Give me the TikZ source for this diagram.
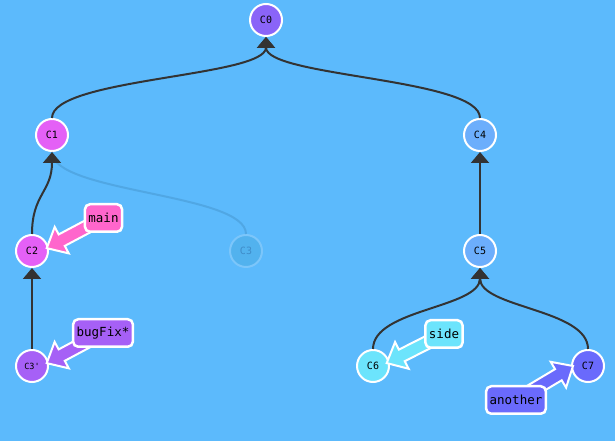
\documentclass[tikz,border=0pt]{standalone}
\usepackage{fontspec}
\setmonofont{DejaVu Sans Mono}
\usetikzlibrary{arrows.meta,calc}
\definecolor{skyblue}{HTML}{5CBAFC}
\definecolor{edgegray}{HTML}{333333}
\definecolor{rootpurple}{HTML}{8A64F8}
\definecolor{mainpink}{HTML}{E460F6}
\definecolor{bugpurple}{HTML}{A660F6}
\definecolor{sideblue}{HTML}{6CAEFC}
\definecolor{sidecyan}{HTML}{6CE4FC}
\definecolor{anotherblue}{HTML}{6A6AFC}
\definecolor{hotpink}{HTML}{FF66CC}
\definecolor{ghostfill}{HTML}{52B2EE}
\definecolor{ghostline}{HTML}{7CC6FA}
\definecolor{ghosttext}{HTML}{3F8CC8}
\definecolor{ghostedge}{HTML}{50A7E4}
\pgfdeclarelayer{front}
\pgfsetlayers{main,front}

% pointer from a branch label to its commit: tail node, tip, colour
\newcommand{\branchptr}[3]{%
  \coordinate (ptrtip) at (#2);
  \coordinate (ptrhead) at ($(ptrtip)!17pt!(#1)$);
  \filldraw[ptr, fill=#3] ($(#1)!6.5pt!90:(ptrtip)$) -- ($(ptrhead)!6.5pt!90:(ptrtip)$)
    -- ($(ptrhead)!15pt!90:(ptrtip)$) -- (ptrtip) -- ($(ptrhead)!15pt!-90:(ptrtip)$)
    -- ($(ptrhead)!6.5pt!-90:(ptrtip)$) -- ($(#1)!6.5pt!-90:(ptrtip)$) -- cycle;}

\begin{document}
\begin{tikzpicture}[
    x=1pt, y=1pt,
    commit/.style={circle, draw=white, line width=2pt, minimum size=32pt, inner sep=0pt, text=black, font=\ttfamily\fontsize{10}{12}\selectfont},
    branch/.style={rectangle, rounded corners=5pt, draw=white, line width=2.5pt, inner xsep=3.5pt, minimum height=27.5pt, text=black, font=\ttfamily\fontsize{12.5}{14}\selectfont},
    edge/.style={line width=2pt, draw=edgegray},
    parent/.style={edge, -{Triangle[width=18pt, length=11pt]}},
    ptr/.style={draw=white, line width=2pt, line join=miter, miter limit=3}
  ]
    \fill[skyblue] (0,0) rectangle (615,441);
    \useasboundingbox (0,0) rectangle (615,441);

    \node[commit, fill=rootpurple] (c0) at (266,421) {C0};
    \node[commit, fill=mainpink] (c1) at (52,306) {C1};
    \node[commit, fill=sideblue] (c4) at (480,306) {C4};
    \node[commit, fill=mainpink] (c2) at (32,190) {C2};
    \node[commit, fill=ghostfill, draw=ghostline, text=ghosttext] (c3) at (246,190) {C3};
    \node[commit, fill=sideblue] (c5) at (480,190) {C5};
    \node[commit, fill=bugpurple, font=\ttfamily\fontsize{8.5}{10}\selectfont] (c3p) at (32,75) {C3'};
    \node[commit, fill=sidecyan] (c6) at (373,75) {C6};
    \node[commit, fill=anotherblue] (c7) at (588,75) {C7};

    \draw[parent] (c1.north) .. controls +(0,40) and +(0,-40) .. (c0.south);
    \draw[parent] (c4.north) .. controls +(0,40) and +(0,-40) .. (c0.south);
    \draw[line width=2pt, ghostedge] (c3.north) .. controls +(0,41) and +(0,-41) .. (c1.south);
    \draw[parent] (c2.north) .. controls +(0,40) and +(0,-40) .. (c1.south);
    \draw[parent] (c3p) -- (c2);
    \draw[parent] (c5) -- (c4);
    \draw[parent] (c6.north) .. controls +(0,40) and +(0,-40) .. (c5.south);
    \draw[parent] (c7.north) .. controls +(0,40) and +(0,-40) .. (c5.south);

    \begin{pgfonlayer}{front}
      \node[branch, fill=hotpink] (main) at (103.5,223) {main};
      \node[branch, fill=bugpurple] (bugfix) at (103,108) {bugFix*};
      \node[branch, fill=sidecyan] (side) at (444,107) {side};
      \node[branch, fill=anotherblue] (another) at (516,41) {another};
    \end{pgfonlayer}

    \branchptr{main}{$(c2)+(11:15pt)$}{hotpink}
    \branchptr{bugfix}{$(c3p)+(11:15pt)$}{bugpurple}
    \branchptr{side}{$(c6)+(12:14pt)$}{sidecyan}
    \branchptr{another}{$(c7)+(180:15pt)$}{anotherblue}
  \end{tikzpicture}
\end{document}
